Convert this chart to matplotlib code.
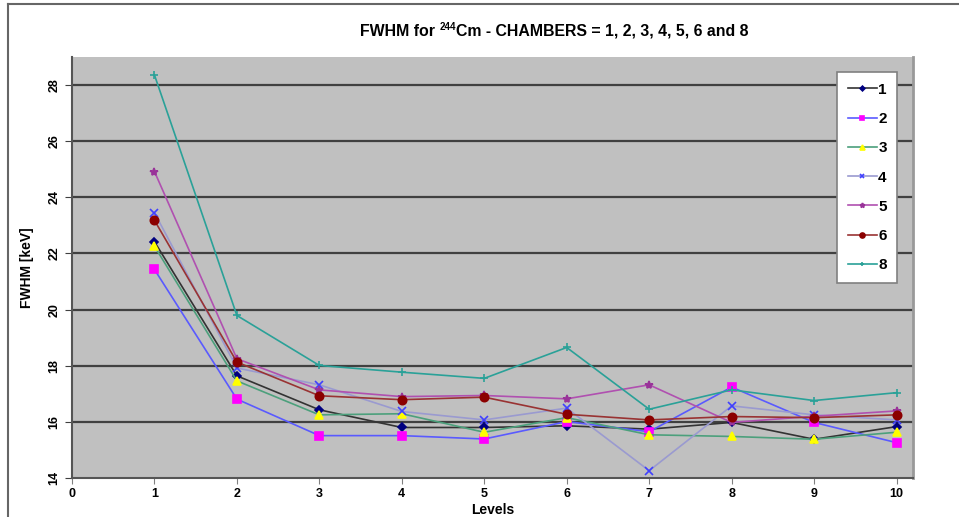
import matplotlib.pyplot as plt
from matplotlib.lines import Line2D

levels = [1, 2, 3, 4, 5, 6, 7, 8, 9, 10]

ch1 = [22.42, 17.64, 16.43, 15.80, 15.80, 15.86, 15.74, 15.98, 15.38, 15.83]
ch2 = [21.43, 16.81, 15.51, 15.51, 15.39, 16.01, 15.65, 17.24, 15.98, 15.26]
ch3 = [22.26, 17.46, 16.25, 16.29, 15.63, 16.15, 15.54, 15.48, 15.38, 15.63]
ch4 = [23.45, 17.92, 17.32, 16.37, 16.07, 16.49, 14.26, 16.57, 16.25, 16.07]
ch5 = [24.92, 18.25, 17.14, 16.90, 16.94, 16.82, 17.32, 15.98, 16.20, 16.39]
ch6 = [23.18, 18.13, 16.93, 16.79, 16.88, 16.27, 16.07, 16.19, 16.15, 16.25]
ch8 = [28.36, 19.79, 18.01, 17.77, 17.55, 18.65, 16.45, 17.14, 16.76, 17.04]

series = [
    ("1", ch1, "#333333", "#000080", "D", 4),
    ("2", ch2, "#5a5aff", "#ff00ff", "s", 6),
    ("3", ch3, "#4ca07c", "#ffff00", "^", 6),
    ("4", ch4, "#9a9ad0", "#4040ff", "x", 6),
    ("5", ch5, "#b050b0", "#993399", "*", 6),
    ("6", ch6, "#993333", "#8b0000", "o", 6),
    ("8", ch8, "#2aa198", "#2aa198", "+", 6),
]

title_parts = [("FWHM for ", 11.4, 0), ("244", 7, 4),
               ("Cm - CHAMBERS = 1, 2, 3, 4, 5, 6 and 8", 11.4, 0)]

plt.rcParams['font.family'] = ['Liberation Sans', 'DejaVu Sans']

fig = plt.figure(figsize=(9.59, 5.17), dpi=100)
ax = fig.add_axes([72 / 959, 1 - 478 / 517, (913 - 72) / 959, (478 - 57) / 517])
ax.set_facecolor("#c0c0c0")

for y in range(16, 30, 2):
    ax.axhline(y, color="#404040", lw=1.6, zorder=1)

for name, vals, lc, mc, mk, ms in series:
    ax.plot(levels, vals, color=lc, lw=1.2, marker=mk, markersize=ms,
            markerfacecolor=mc, markeredgecolor=mc, markeredgewidth=1.2,
            label=name, zorder=3)

ax.set_xlim(0, 10.2)
ax.set_ylim(14, 29)
ax.set_xticks(range(0, 11))
ax.set_yticks(range(14, 30, 2))
ax.tick_params(axis="y", labelrotation=90, length=5, color="#404040")
ax.tick_params(axis="x", length=4, color="#808080")
for lab in ax.get_xticklabels() + ax.get_yticklabels():
    lab.set_fontweight("bold")
    lab.set_fontsize(9)
for lab in ax.get_yticklabels():
    lab.set_va("center")

for side in ["left", "bottom"]:
    ax.spines[side].set_color("#555555")
    ax.spines[side].set_linewidth(1.5)
ax.spines["top"].set_visible(False)
ax.spines["right"].set_color("#999999")
ax.spines["right"].set_linewidth(2)

ax.set_xlabel("Levels", fontweight="bold", fontsize=10, labelpad=2)
ax.set_ylabel("FWHM [keV]", fontweight="bold", fontsize=10, labelpad=10)

# title pieced together so the superscript stays small
r = fig.canvas.get_renderer()
x = 360
for txt, fs, dy in title_parts:
    t = fig.text(x / 959, 1 - (31 - dy) / 517, txt, ha="left", va="center",
                 fontsize=fs, fontweight="bold")
    x += t.get_window_extent(renderer=r).width

leg = ax.legend(loc="upper left", bbox_to_anchor=((837 - 72) / 841, (478 - 72) / 421),
                borderaxespad=0, frameon=True, fancybox=False, framealpha=1,
                facecolor="white", edgecolor="#808080",
                handlelength=1.9, handletextpad=0.1, borderpad=0.7,
                labelspacing=1.0, prop={"weight": "bold", "size": 11},
                markerscale=0.6)
leg.get_frame().set_linewidth(1.2)

# outer chart border
fig.add_artist(Line2D([8 / 959, 8 / 959], [0, 1 - 4 / 517], color="#666666", lw=1.5))
fig.add_artist(Line2D([8 / 959, 1], [1 - 4 / 517, 1 - 4 / 517], color="#666666", lw=1.5))

fig.savefig("out.png", dpi=100)
